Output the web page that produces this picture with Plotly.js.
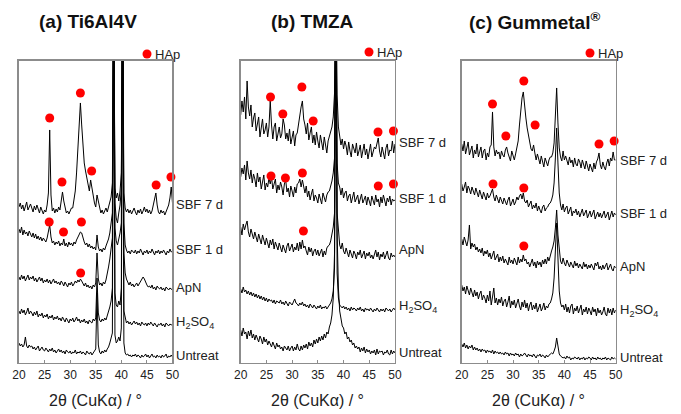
<!DOCTYPE html>
<html>
<head>
<meta charset="utf-8">
<script src="https://cdn.plot.ly/plotly-3.0.1.min.js"></script>
<style>html,body{margin:0;padding:0;background:#fff;}#chart{width:681px;height:414px;}</style>
</head>
<body>
<div id="chart"></div>
<script>
// 2θ scan: starts at 20°, one reading every 0.25°, up to 50°
const scanStart = 20;
const scanStep = 0.25;
const xTicks = [20, 25, 30, 35, 40, 45, 50];

const sampleNames = ['SBF 7 d', 'SBF 1 d', 'ApN', 'H<sub>2</sub>SO<sub>4</sub>', 'Untreat'];
const panelTitles = ['<b>(a) Ti6Al4V</b>', '<b>(b) TMZA</b>', '<b>(c) Gummetal<sup>®</sup></b>'];
const axisTitle = '2θ (CuKα) / °';
const hapLabel = 'HAp';

// ---- (a) Ti6Al4V, stacked intensities (a.u.) ----
const a_SBF7 = [156,160,154,158,152,157,161,153,156,159, 155,151,157,153,158,154,150,156,152,149,
  153,151,158,170,233,168,152,155,150,154, 151,156,153,160,171,162,154,150,152,149,
  152,155,155,162,172,190,212,240,260,238, 215,200,192,185,178,172,183,176,165,160,
  156,168,162,155,150,153,149,152,155,151, 156,160,166,180,400,175,165,170,162,172,
  190,400,170,155,151,154,150,153,149,152, 155,151,148,153,150,154,149,152,156,151,
  154,150,153,149,152,158,163,170,158,151, 149,153,150,152,148,151,154,158,165,176, 160];
const a_SBF1 = [134,130,136,128,133,129,131,127,132,128, 126,130,125,129,124,127,123,126,122,125,
  123,121,125,130,138,126,120,122,118,121, 119,122,117,120,118,124,117,120,116,121,
  118,120,117,121,119,123,126,129,131,130, 124,121,118,120,116,119,115,117,114,116,
  113,128,116,112,114,111,115,113,117,120, 124,130,138,150,400,160,145,140,150,158,
  175,400,140,118,113,110,112,109,113,111, 110,113,109,112,110,114,111,108,112,110,
  113,109,112,110,114,111,108,112,110,113, 109,112,110,113,111,108,112,110,114,111, 112];
const a_ApN = [86,83,88,84,87,82,85,88,83,86, 84,87,82,85,81,84,86,82,85,80,
  83,81,84,80,83,79,82,84,80,82, 79,81,78,82,80,77,81,79,76,80,
  78,81,77,79,82,80,83,81,84,82, 79,77,80,76,78,75,77,74,78,76,
  80,110,84,78,80,77,81,79,83,88, 96,104,113,125,400,135,122,118,124,130,
  140,400,110,90,84,80,78,81,77,79, 76,78,80,77,79,81,83,86,84,80,
  78,76,77,75,78,74,76,73,77,75, 74,76,73,75,72,76,74,73,75,74, 73];
const a_H2SO4 = [52,49,54,50,53,48,51,55,49,52, 50,47,51,48,52,46,49,47,50,45,
  48,46,49,44,47,45,48,43,46,44, 47,43,45,42,46,44,41,45,43,40,
  44,42,45,41,43,46,42,44,40,43, 41,44,40,42,39,43,41,40,44,42,
  45,85,50,43,41,44,42,45,43,47, 50,56,62,75,400,70,58,56,62,58,
  75,400,52,44,40,42,39,41,38,40, 42,39,41,38,40,37,41,39,38,40,
  37,40,38,41,39,37,40,38,36,39, 38,40,37,39,36,40,38,37,39,38, 39];
const a_Untreat = [20,17,19,16,18,26,17,15,18,16, 17,14,16,13,15,17,12,14,16,13,
  12,15,13,11,14,12,15,11,13,10, 12,14,11,13,10,12,9,13,11,10,
  12,9,11,10,13,9,11,10,12,9, 11,10,8,12,10,9,11,8,10,12,
  14,70,18,11,9,12,10,13,11,14, 16,20,24,30,400,28,20,22,26,22,
  35,400,20,10,8,9,7,8,6,8, 7,9,6,8,7,5,8,6,7,9,
  6,8,5,7,9,6,7,5,8,6, 7,5,8,6,7,9,5,7,6,8, 6];
const a_hapX = [26.0, 28.4, 32.0, 34.2, 46.8, 49.7, 25.9, 28.7, 32.2, 32.05];
const a_hapY = [245, 181, 270, 192, 178, 186, 141, 131, 141, 90];

// ---- (b) TMZA ----
const b_SBF7 = [248,262,251,266,244,282,256,247,258,236, 245,250,232,241,246,226,238,244,229,233,
  240,226,236,262,238,224,236,240,222,231, 236,225,229,244,238,224,230,222,234,219,
  226,232,217,228,230,240,246,256,262,244, 238,229,240,223,230,236,220,228,218,231,
  222,215,228,220,213,226,219,210,222,226, 230,236,246,270,400,268,236,226,218,224,
  214,222,217,208,221,212,206,219,213,210, 220,207,212,218,205,213,219,208,214,204,
  212,219,206,211,216,214,220,225,212,206, 216,209,204,215,219,207,213,212,222,210, 219];
const b_SBF1 = [186,195,189,198,183,202,190,184,193,180, 189,184,176,190,181,186,174,183,188,173,
  180,176,185,179,186,174,181,184,170,178, 173,181,176,168,179,183,171,175,166,177,
  172,166,176,170,179,180,184,176,183,174, 170,177,166,172,163,169,174,162,168,165,
  160,169,165,159,170,164,161,168,171,172, 176,182,190,205,400,200,180,176,168,175,
  165,170,172,162,167,169,160,166,171,161, 165,168,159,163,169,160,164,167,158,166,
  162,157,167,163,158,168,161,164,156,166, 160,168,163,157,165,161,167,158,164,162, 163];
const b_ApN = [136,128,139,133,138,142,131,126,134,129, 124,131,127,121,129,125,119,128,122,118,
  125,120,115,123,118,124,114,121,117,113, 120,116,111,118,114,110,117,120,112,115,
  119,111,116,113,120,112,121,114,123,115, 117,112,108,116,111,115,107,112,114,108,
  113,107,111,114,106,112,108,115,117,118, 122,128,136,150,400,150,128,118,114,120,
  112,109,115,110,106,113,108,105,112,109, 104,111,108,113,105,109,112,104,110,107,
  111,105,108,104,110,113,106,111,103,109, 106,111,104,109,112,105,103,110,106,108, 106];
const b_H2SO4 = [74,70,76,71,73,69,72,68,71,67, 70,66,69,65,68,64,67,63,66,62,
  65,61,64,62,63,60,63,59,62,61, 60,63,59,61,58,62,60,57,61,59,
  58,61,64,60,59,57,60,58,61,57, 59,56,58,55,59,57,55,58,56,54,
  57,55,58,54,56,55,57,54,56,58, 60,64,72,95,400,90,65,58,56,55,
  57,54,56,53,55,52,56,53,55,54, 52,55,53,56,52,54,51,55,53,54,
  52,55,53,51,54,52,55,53,51,54, 52,54,51,55,53,52,54,51,53,55, 53];
const b_Untreat = [33,27,35,29,31,24,32,27,33,25, 29,23,28,25,21,27,24,19,26,21,
  24,18,22,19,16,21,17,14,20,16, 18,14,16,12,17,15,13,17,12,15,
  17,12,16,13,19,14,12,17,13,18, 15,19,14,21,17,20,16,23,19,24,
  20,26,22,27,23,29,25,31,29,36, 40,48,65,110,400,130,75,52,42,37,
  35,29,31,24,26,21,23,18,20,15, 17,14,16,11,15,12,16,10,14,11,
  13,9,12,10,13,8,14,9,12,11, 12,8,11,10,13,9,8,13,9,12, 10];
const b_hapX = [25.8, 28.2, 31.9, 34.1, 46.7, 49.7, 25.9, 28.7, 32.0, 46.75, 49.7, 32.2];
const b_hapY = [266, 249, 276, 242, 231, 232, 187, 185, 190, 177, 179, 132];

// ---- (c) Gummetal ----
const c_SBF7 = [219,212,222,209,215,221,208,214,217,205, 213,209,219,206,211,216,205,212,214,203,
  210,206,216,218,251,216,207,213,209,211, 204,212,208,206,213,216,210,205,202,212,
  207,203,209,214,222,238,252,265,271,255, 245,235,228,220,214,212,218,210,203,209,
  204,199,207,202,196,205,200,197,203,206, 206,210,220,245,275,240,215,206,202,212,
  203,207,201,198,206,200,203,196,205,199, 197,204,201,195,203,199,194,202,197,192,
  199,195,191,200,194,201,204,210,198,194, 201,196,193,200,204,197,205,202,211,203, 203];
const c_SBF1 = [179,172,176,181,170,177,174,169,176,171, 168,175,171,166,173,169,164,171,167,163,
  170,165,167,170,174,166,162,168,164,160, 166,162,159,165,161,158,163,166,157,160,
  164,158,161,166,163,167,169,164,170,162, 160,163,156,159,162,154,158,155,160,152,
  157,153,150,156,158,152,155,156,159,160, 163,168,180,205,235,200,170,158,153,159,
  151,155,157,149,153,156,147,152,150,154, 148,152,146,151,154,147,150,153,145,149,
  152,146,149,153,144,148,151,146,150,145, 149,152,145,148,151,143,147,152,146,150, 148];
const c_ApN = [124,118,126,121,117,123,138,114,120,116, 119,113,116,111,114,110,115,107,112,109,
  113,106,110,104,108,112,103,106,109,101, 106,102,107,100,104,101,98,106,100,103,
  99,105,102,98,106,100,104,101,108,102, 104,99,101,96,100,104,97,101,95,102,
  98,101,96,103,99,104,99,106,102,108, 112,116,122,135,153,128,110,102,99,105,
  100,97,103,99,96,101,98,95,102,97, 100,95,99,97,94,101,96,99,94,98,
  95,99,96,93,100,97,101,94,97,93, 98,94,97,100,93,96,99,94,92,97, 95];
const c_H2SO4 = [78,72,76,69,77,73,68,75,70,66, 73,67,71,64,69,72,63,68,65,60,
  68,62,72,58,66,75,60,65,58,64, 60,66,57,62,64,56,61,67,55,62,
  58,63,55,61,64,57,53,61,56,63, 55,60,52,58,61,53,58,54,60,51,
  56,59,52,55,60,53,57,55,59,60, 64,70,85,110,140,105,72,60,56,58,
  53,59,51,56,50,57,59,49,55,52, 57,50,55,58,48,54,51,56,49,55,
  52,48,56,51,54,47,55,50,53,48, 51,56,49,47,55,50,54,48,55,50, 53];
const c_Untreat = [19,16,20,15,18,14,17,15,18,13, 16,13,15,12,14,11,14,12,13,10,
  13,11,12,10,13,9,12,10,11,9, 11,9,10,8,11,9,10,7,10,8,
  9,7,10,8,9,6,9,7,8,10, 8,6,9,7,8,6,9,7,5,8,
  7,9,6,8,7,5,8,6,8,9, 10,9,12,16,25,14,9,7,6,5,
  6,4,7,5,6,3,5,4,6,5, 4,6,3,5,4,6,3,5,4,6,
  5,3,6,4,5,3,6,4,5,3, 5,4,6,3,5,4,3,6,4,5, 4];
const c_hapX = [26.0, 28.6, 32.1, 34.3, 46.75, 49.7, 26.1, 32.1, 32.1];
const c_hapY = [259, 227, 282, 238, 219, 222, 179, 175, 117];

// ---------- build ----------
const panels = [
  {series: [a_SBF7, a_SBF1, a_ApN, a_H2SO4, a_Untreat], hx: a_hapX, hy: a_hapY},
  {series: [b_SBF7, b_SBF1, b_ApN, b_H2SO4, b_Untreat], hx: b_hapX, hy: b_hapY},
  {series: [c_SBF7, c_SBF1, c_ApN, c_H2SO4, c_Untreat], hx: c_hapX, hy: c_hapY}
];
// layout-only settings
const xDomains = [[0.0279, 0.2533], [0.3534, 0.5800], [0.6780, 0.9041]];
const yDomain = [0.1232, 0.8527];
const labelPos = [[158, 113, 75, 40, 7], [220, 164, 113, 56, 10], [202, 149, 96, 52, 5]];
const titleX = [88, 312, 534];
const hapDot = [[147, 54], [369, 52], [590, 53]];
const W = 681, H = 414;
const FONT = 'Liberation Sans, Arial, sans-serif';

const traces = [];
const annotations = [];
const shapes = [];
const layout = {
  width: W, height: H,
  margin: {l: 0, r: 0, t: 0, b: 0},
  paper_bgcolor: '#fff', plot_bgcolor: '#fff',
  showlegend: false,
  font: {family: FONT, color: '#222'}
};

panels.forEach((p, k) => {
  const sfx = k === 0 ? '' : String(k + 1);
  const xa = 'x' + sfx, ya = 'y' + sfx;
  p.series.forEach(vals => {
    traces.push({
      type: 'scatter', mode: 'lines', x0: scanStart, dx: scanStep, y: vals,
      xaxis: xa, yaxis: ya, line: {color: '#000', width: 1}, hoverinfo: 'skip'
    });
  });
  traces.push({
    type: 'scatter', mode: 'markers', x: p.hx, y: p.hy, xaxis: xa, yaxis: ya,
    marker: {color: '#ff0000', size: 9, line: {width: 0}}, cliponaxis: false
  });
  layout['xaxis' + sfx] = {
    domain: xDomains[k], anchor: ya, range: [20, 50],
    tickvals: xTicks, ticks: 'inside', ticklen: 3, tickcolor: '#8c8c8c',
    showline: true, linecolor: '#8c8c8c', linewidth: 1.5, mirror: true,
    showgrid: false, zeroline: false,
    tickfont: {family: FONT, size: 12, color: '#222'}
  };
  layout['yaxis' + sfx] = {
    domain: yDomain, anchor: xa, range: [0, 302],
    showline: true, linecolor: '#8c8c8c', linewidth: 1.5, mirror: true,
    showgrid: false, zeroline: false, showticklabels: false, ticks: ''
  };
  sampleNames.forEach((nm, j) => {
    annotations.push({
      xref: xa, yref: ya, x: 50, y: labelPos[k][j], text: nm, showarrow: false,
      xanchor: 'left', yanchor: 'middle', xshift: 2,
      font: {family: FONT, size: 13, color: '#222'}
    });
  });
  annotations.push({
    xref: 'paper', yref: 'paper', x: titleX[k] / W, y: (H - 21) / H, text: panelTitles[k],
    showarrow: false, xanchor: 'center', yanchor: 'middle',
    font: {family: FONT, size: 19, color: '#111'}
  });
  annotations.push({
    xref: 'paper', yref: 'paper', x: (xDomains[k][0] + xDomains[k][1]) / 2, y: (H - 400) / H,
    text: axisTitle, showarrow: false, xanchor: 'center', yanchor: 'middle',
    font: {family: FONT, size: 16, color: '#222'}
  });
  const [cx, cy] = hapDot[k];
  shapes.push({
    type: 'circle', xref: 'paper', yref: 'paper',
    x0: (cx - 4.5) / W, x1: (cx + 4.5) / W, y0: (H - cy - 4.5) / H, y1: (H - cy + 4.5) / H,
    fillcolor: '#ff0000', line: {width: 0}
  });
  annotations.push({
    xref: 'paper', yref: 'paper', x: (cx + 6) / W, y: (H - cy) / H, text: hapLabel,
    showarrow: false, xanchor: 'left', yanchor: 'middle',
    font: {family: FONT, size: 13, color: '#222'}
  });
});
layout.annotations = annotations;
layout.shapes = shapes;

Plotly.newPlot('chart', traces, layout, {staticPlot: true, displayModeBar: false});
</script>
</body>
</html>
